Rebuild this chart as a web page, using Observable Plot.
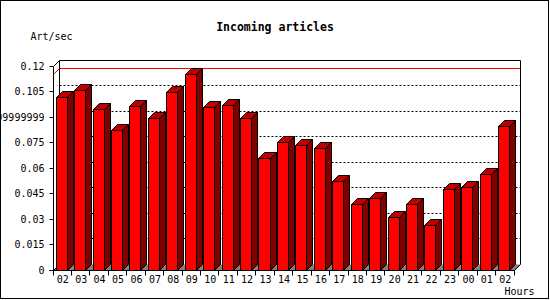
<!DOCTYPE html>
<html>
<head>
<meta charset="utf-8">
<script src="https://cdn.jsdelivr.net/npm/d3@7"></script>
<script src="https://cdn.jsdelivr.net/npm/@observablehq/plot@0.6"></script>
<style>
  html, body { margin: 0; padding: 0; background: #fff; }
  svg { display: block; }
</style>
</head>
<body>
<div id="chart"></div>
<script>
// ---- data ----
const hours = ["02","03","04","05","06","07","08","09","10","11","12","13","14",
               "15","16","17","18","19","20","21","22","23","00","01","02"];
const values = [0.1013, 0.1057, 0.0944, 0.0820, 0.0960, 0.0891, 0.1043, 0.1151,
                0.0956, 0.0966, 0.0891, 0.0653, 0.0748, 0.0732, 0.0716, 0.0518,
                0.0388, 0.0423, 0.0311, 0.0388, 0.0264, 0.0476, 0.0488, 0.0559, 0.0842];
const yTicks = [0, 0.015, 0.03, 0.045, 0.06, 0.075, 0.09, 0.105, 0.12];
const yTickLabels = ["0", "0.015", "0.03", "0.045", "0.06", "0.075",
                     "0.08999999999", "0.105", "0.12"];
const titleText = "Incoming articles";
const yLabelText = "Art/sec";
const xLabelText = "Hours";

// ---- styling ----
const FONT = "'DejaVu Sans Mono', 'Liberation Mono', monospace";
const DEPTH = 6;
const FRONT = "#ff0000", TOP = "#c00000", SIDE = "#800000", FLOOR = "#808080";

const snap = p => Math.floor(p) + 0.5;
const pts = a => a.map(p => p.join(",")).join(" ");

// 3D backdrop: back wall, dotted grid, max line, floor, axis lines & ticks
function backdrop(index, scales) {
  const {x, y} = scales;
  const n = hours.length, d = DEPTH;
  const x0 = snap(x(0)), x1 = snap(x(n));
  const yB = snap(y(0)), yT = snap(y(yTicks[yTicks.length - 1]));
  const g = d3.create("svg:g");
  // outer border
  g.append("rect").attr("x", 0.5).attr("y", 0.5).attr("width", 548).attr("height", 298)
    .attr("fill", "none").attr("stroke", "#000");
  // floor
  g.append("polygon").attr("points", pts([[x0, yB], [x0 + d, yB - d], [x1 + d, yB - d], [x1, yB]]))
    .attr("fill", FLOOR).attr("stroke", "none");
  // dotted grid on the back wall
  for (const t of yTicks.slice(1, -1)) {
    const yy = snap(y(t)) - d;
    g.append("line").attr("x1", x0 + d).attr("x2", x1 + d).attr("y1", yy).attr("y2", yy)
      .attr("stroke", "#000").attr("stroke-dasharray", "2,2");
  }
  // max line (red)
  const ym = snap(y(d3.max(values)));
  g.append("polyline").attr("points", pts([[x0, ym], [x0 + d, ym - d], [x1 + d, ym - d]]))
    .attr("fill", "none").attr("stroke", "#ff0000");
  // wall/frame lines
  const lines = [
    [[x0, yT], [x0, yB]],
    [[x0, yT], [x0 + d, yT - d]],
    [[x0 + d, yT - d], [x1 + d, yT - d]],
    [[x0 + d, yT - d], [x0 + d, yB - d]],
    [[x1 + d, yT - d], [x1 + d, yB - d]],
    [[x0, yB], [x0 + d, yB - d]],
    [[x1, yB], [x1 + d, yB - d]],
    [[x0 - 4, yB], [x1, yB]]
  ];
  for (const l of lines)
    g.append("polyline").attr("points", pts(l)).attr("fill", "none").attr("stroke", "#000");
  // y ticks
  for (const t of yTicks) {
    const yy = snap(y(t));
    g.append("line").attr("x1", x0 - 4).attr("x2", x0).attr("y1", yy).attr("y2", yy).attr("stroke", "#000");
  }
  // x ticks (band boundaries)
  for (let k = 0; k <= n; ++k) {
    const xx = snap(x(k));
    g.append("line").attr("x1", xx).attr("x2", xx).attr("y1", yB).attr("y2", yB + 5).attr("stroke", "#000");
  }
  return g.node();
}

// 3D bars: front, side and top faces
function bars3d(index, scales) {
  const {x, y} = scales;
  const d = DEPTH;
  const yB = snap(y(0));
  const g = d3.create("svg:g").attr("stroke", "#000").attr("stroke-linejoin", "miter");
  values.forEach((v, i) => {
    const L = snap(x(i + 0.17)), R = snap(x(i + 0.77)), T = snap(y(v));
    g.append("polygon").attr("points", pts([[R, yB], [R + d, yB - d], [R + d, T - d], [R, T]])).attr("fill", SIDE);
    g.append("polygon").attr("points", pts([[L, T], [L + d, T - d], [R + d, T - d], [R, T]])).attr("fill", TOP);
    g.append("rect").attr("x", L).attr("y", T).attr("width", R - L).attr("height", yB - T).attr("fill", FRONT);
  });
  return g.node();
}

const chart = Plot.plot({
  width: 550,
  height: 300,
  marginLeft: 53,
  marginRight: 36,
  marginTop: 66,
  marginBottom: 30,
  style: {fontFamily: FONT, background: "#fff", color: "#000"},
  x: {domain: [0, hours.length], axis: null},
  y: {domain: [0, yTicks[yTicks.length - 1]], axis: null},
  marks: [
    backdrop,
    bars3d,
    Plot.text(yTicks, {y: d => d, text: (d, i) => yTickLabels[i], frameAnchor: "left",
      lineAnchor: "middle", dx: -9, textAnchor: "end", fontSize: 10, fill: "#000"}),
    Plot.text(hours, {x: (d, i) => i + 0.5, text: d => d, frameAnchor: "bottom",
      lineAnchor: "middle", dy: 9.5, fontSize: 10, fill: "#000"}),
    Plot.text([titleText], {text: d => d, frameAnchor: "top", lineAnchor: "middle",
      dx: -9, dy: -39, fontSize: 11.5, fontWeight: "bold", fill: "#000"}),
    Plot.text([yLabelText], {text: d => d, frameAnchor: "top-left", lineAnchor: "middle",
      dx: -23, dy: -29.5, textAnchor: "start", fontSize: 10, fill: "#000"}),
    Plot.text([xLabelText], {text: d => d, frameAnchor: "bottom-right", lineAnchor: "middle",
      dx: -10, dy: 21.5, textAnchor: "start", fontSize: 10, fill: "#000"})
  ]
});
document.getElementById("chart").appendChild(chart);
</script>
</body>
</html>
